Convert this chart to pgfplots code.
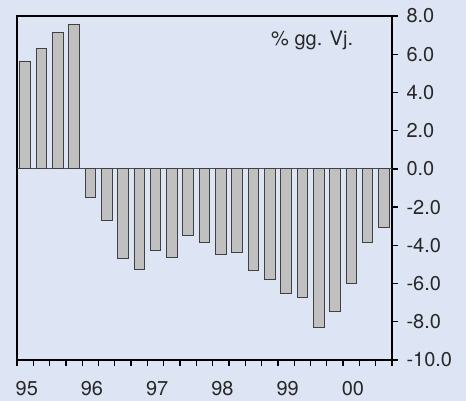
\documentclass[border=0pt]{standalone}
\usepackage{pgfplots}
\pgfplotsset{compat=1.18}
\usepackage{pgfplotstable}
\usepackage{fontspec}
\setmainfont{TeX Gyre Heros}
\definecolor{bgc}{RGB}{221,228,243}
\definecolor{barc}{RGB}{192,192,192}
\definecolor{txt}{RGB}{40,40,40}
\pgfplotstableread{
x y
0.5 5.65
1.5 6.30
2.5 7.14
3.5 7.54
4.5 -1.47
5.5 -2.72
6.5 -4.71
7.5 -5.24
8.5 -4.29
9.5 -4.61
10.5 -3.46
11.5 -3.84
12.5 -4.50
13.5 -4.38
14.5 -5.32
15.5 -5.76
16.5 -6.51
17.5 -6.72
18.5 -8.27
19.5 -7.45
20.5 -5.97
21.5 -3.86
22.5 -3.04
}\datatable
\begin{document}
\begin{tikzpicture}
\fill[bgc] (0,0) rectangle (466pt,401pt);
\begin{axis}[
  at={(17pt,41pt)}, anchor=south west,
  scale only axis, width=375pt, height=344pt,
  xmin=0, xmax=23, ymin=-10, ymax=8,
  axis line style={line width=1.3pt},
  ytick={-10,-8,...,8},
  yticklabels={-10.0,-8.0,-6.0,-4.0,-2.0,0.0,2.0,4.0,6.0,8.0},
  yticklabel pos=right,
  tick align=outside,
  major tick length=6pt, minor tick length=6pt,
  every tick/.style={black, line width=1.3pt},
  xtick={0.6,4.6,8.6,12.6,16.6,20.6},
  xticklabels={95,96,97,98,99,00},
  major x tick style={draw=none},
  minor xtick={0,1,...,23},
  ytick pos=right, xtick pos=bottom,
  yticklabel style={anchor=west, xshift=5pt, text=txt, font=\fontsize{20}{24}\selectfont},
  xticklabel style={anchor=north, inner sep=0pt, yshift=-15pt, text=txt, font=\fontsize{20}{24}\selectfont},
  clip=false,
]
\draw[black!70, line width=0.8pt] (axis cs:0,0) -- (axis cs:23,0);
\addplot[ybar, bar width=0.65, fill=barc, draw=black!75, line width=0.8pt] table[x=x,y=y]{\datatable};
\node[text=txt, font=\fontsize{20}{24}\selectfont] at (rel axis cs:0.787,0.93) {\% gg. Vj.};
\end{axis}
\pgfresetboundingbox
\path (0,0) rectangle (466pt,401pt);
\end{tikzpicture}
\end{document}
